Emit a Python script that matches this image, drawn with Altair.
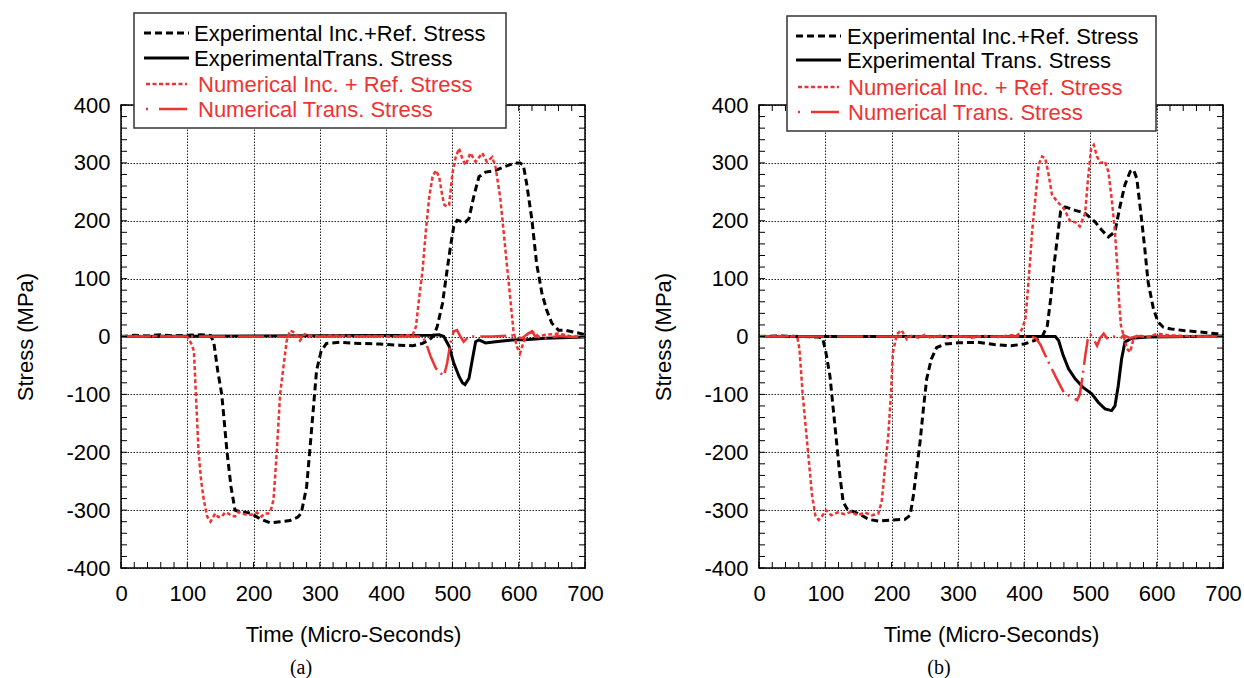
import altair as alt
import pandas as pd

# ---------------- data ----------------
X_MAJOR = list(range(0, 701, 100))
Y_MAJOR = list(range(-400, 401, 100))
X_MINOR = list(range(0, 701, 20))
Y_MINOR = list(range(-400, 401, 20))

LABELS_A = ["Experimental Inc.+Ref. Stress", "ExperimentalTrans. Stress",
            "Numerical Inc. + Ref. Stress", "Numerical Trans. Stress"]
LABELS_B = ["Experimental Inc.+Ref. Stress", "Experimental Trans. Stress",
            "Numerical Inc. + Ref. Stress", "Numerical Trans. Stress"]

# panel (a): (time, stress)
A_EXP_INC = [(0, 0), (20, 2), (40, 1), (60, 3), (80, 1), (100, 2), (120, 3), (135, 2), (140, -10),
             (146, -60), (152, -100), (160, -200), (166, -260), (172, -300), (180, -303), (195, -305),
             (210, -315), (225, -322), (240, -320), (255, -318), (267, -312), (272, -305), (280, -260),
             (287, -168), (295, -59), (302, -25), (310, -12), (330, -10), (360, -12), (390, -13),
             (420, -15), (440, -16), (455, -12), (465, -6), (472, 2), (477, 17), (485, 57), (492, 115),
             (497, 155), (502, 190), (507, 201), (513, 199), (520, 198), (525, 204), (532, 241),
             (540, 276), (550, 284), (565, 287), (580, 294), (595, 300), (602, 300), (607, 296),
             (612, 264), (620, 201), (627, 126), (635, 75), (642, 46), (650, 23), (660, 11), (670, 11),
             (690, 6), (700, 3)]
A_EXP_TRANS = [(0, 0), (470, 2), (480, 3), (487, 0), (495, -17), (502, -46), (510, -69), (515, -80),
               (519, -83), (525, -72), (530, -40), (535, -9), (540, -6), (550, -11), (565, -9),
               (590, -6), (615, -5), (640, -3), (700, -1)]
A_NUM_INC = [(0, 0), (20, 1), (40, 0), (60, 1), (80, 0), (100, 0), (102, -5), (106, -12), (110, -25),
             (113, -100), (117, -200), (121, -250), (125, -283), (130, -311), (135, -320), (142, -306),
             (147, -312), (152, -311), (157, -304), (162, -306), (167, -310), (172, -311), (177, -303),
             (182, -306), (190, -308), (197, -308), (205, -304), (212, -311), (217, -306), (222, -306),
             (226, -300), (230, -283), (235, -200), (240, -100), (245, -53), (250, -7), (255, 10),
             (262, 7), (270, -7), (277, 4), (287, 1), (300, 0), (320, 2), (350, 0), (380, 1), (410, 0),
             (440, 3), (445, 17), (450, 69), (455, 115), (460, 184), (465, 241), (470, 276), (475, 287),
             (480, 276), (485, 241), (488, 227), (492, 225), (495, 227), (500, 282), (505, 310),
             (510, 325), (515, 307), (520, 296), (527, 317), (535, 302), (545, 317), (552, 302),
             (560, 310), (565, 293), (572, 241), (577, 184), (582, 126), (587, 69), (592, 11),
             (597, -17), (602, -29), (607, -11), (612, 3), (620, 9), (630, 0), (640, 3), (660, 5),
             (680, 0), (700, 0)]
A_NUM_TRANS = [(0, 0), (200, 0), (400, 0), (455, 0), (460, -11), (467, -34), (475, -55), (481, -62),
               (487, -69), (492, -46), (497, -11), (502, 9), (507, 11), (512, 0), (517, -9), (522, -3),
               (530, 0), (560, 0), (590, 2), (605, -3), (615, 6), (620, 9), (625, 0), (640, -3),
               (660, 1), (680, -1), (700, 0)]

# panel (b)
B_EXP_INC = [(0, 0), (30, 1), (60, 0), (90, -1), (96, -3), (101, -28), (107, -68), (112, -125),
             (117, -182), (122, -240), (127, -286), (134, -300), (144, -303), (155, -309), (165, -316),
             (180, -319), (200, -317), (220, -316), (228, -309), (233, -274), (238, -228), (243, -182),
             (248, -125), (253, -73), (260, -39), (268, -19), (281, -13), (301, -11), (330, -10),
             (355, -14), (380, -16), (400, -13), (415, -7), (427, -1), (435, 19), (440, 65), (445, 123),
             (450, 169), (455, 216), (462, 224), (477, 218), (492, 213), (507, 198), (517, 184),
             (527, 172), (537, 181), (545, 227), (552, 262), (560, 285), (565, 288), (570, 273),
             (577, 204), (582, 152), (587, 94), (595, 48), (602, 25), (610, 16), (622, 13), (643, 10),
             (663, 8), (688, 5), (700, 4)]
B_EXP_TRANS = [(0, 0), (300, 0), (447, 0), (452, -7), (459, -33), (467, -56), (477, -73), (489, -88),
               (502, -99), (512, -114), (522, -125), (532, -128), (537, -120), (542, -85), (547, -39),
               (552, -10), (562, -3), (587, -1), (650, 0), (700, 1)]
B_NUM_INC = [(0, 0), (30, 1), (55, 0), (58, -2), (61, -22), (66, -101), (74, -200), (80, -274),
             (85, -309), (90, -317), (96, -309), (101, -300), (109, -309), (119, -304), (129, -307),
             (139, -303), (149, -309), (160, -304), (170, -309), (180, -306), (185, -286), (190, -228),
             (195, -171), (199, -101), (202, -28), (208, 4), (215, 11), (223, -5), (230, 1), (240, -2),
             (250, 3), (260, -3), (270, 2), (285, -2), (300, 1), (320, -2), (340, 1), (360, -1),
             (380, 2), (390, 2), (397, 13), (402, 31), (407, 100), (412, 181), (417, 239), (422, 297),
             (427, 311), (432, 308), (437, 279), (442, 245), (450, 233), (460, 221), (470, 198),
             (477, 198), (484, 190), (492, 213), (496, 268), (501, 325), (505, 331), (510, 311),
             (515, 300), (522, 302), (527, 285), (532, 239), (537, 181), (541, 112), (543, 65),
             (546, 19), (550, 2), (555, -21), (560, -27), (565, -4), (572, 2), (587, -1), (602, 5),
             (618, 2), (643, 1), (670, 0), (700, 0)]
B_NUM_TRANS = [(0, 0), (200, 0), (410, 0), (418, -3), (425, -15), (430, -28), (440, -52), (450, -75),
               (460, -97), (470, -104), (480, -110), (484, -100), (488, -70), (492, -35), (496, -5),
               (500, 3), (505, -5), (510, -16), (515, -2), (520, 5), (525, -3), (535, 0), (545, -4),
               (550, 2), (560, -3), (570, 1), (580, 0), (700, 0)]

# ---------------- styles ----------------
RED = "#EE3333"
STYLES = [
    dict(color="black", strokeDash=[7, 4], strokeWidth=3),
    dict(color="black", strokeWidth=3),
    dict(color=RED, strokeDash=[4, 2.5], strokeWidth=2.5),
    dict(color=RED, strokeDash=[26, 5, 2, 6], strokeWidth=2.5),
]
LABEL_COLORS = ["black", "black", RED, RED]
FONT = "Liberation Sans"
W, H = 464, 463
HYPHEN_LABEL = "datum.value < 0 ? '-' + abs(datum.value) : '' + datum.value"

ONE = pd.DataFrame({"k": [0]})


def panel(curves, labels, leg, caption):
    xs = alt.Scale(domain=[0, 700], nice=False, zero=False)
    ys = alt.Scale(domain=[-400, 400], nice=False, zero=False)
    xaxis = alt.Axis(values=X_MAJOR, title="Time (Micro-Seconds)", grid=True, ticks=False,
                     tickSize=0, domain=False, labelPadding=15, titlePadding=20,
                     gridDash=[1.5, 1.5], gridColor="#222", gridWidth=1, labelFlush=False,
                     labelExpr=HYPHEN_LABEL)
    yaxis = alt.Axis(values=Y_MAJOR, title="Stress (MPa)", grid=True, ticks=False,
                     tickSize=0, domain=False, labelPadding=11, titlePadding=28,
                     gridDash=[1.5, 1.5], gridColor="#222", gridWidth=1, labelFlush=False,
                     labelExpr=HYPHEN_LABEL)
    layers = []
    for i, (pts, st) in enumerate(zip(curves, STYLES)):
        df = pd.DataFrame(pts, columns=["t", "s"])
        layers.append(
            alt.Chart(df).mark_line(**st).encode(
                x=alt.X("t:Q", scale=xs, axis=xaxis),
                y=alt.Y("s:Q", scale=ys, axis=yaxis),
            )
        )
    # inward tick marks on all four sides
    ydf = pd.DataFrame({"s": Y_MINOR})
    xdf = pd.DataFrame({"t": X_MINOR})
    tl = 6
    layers.append(alt.Chart(ydf).mark_rule(color="black", strokeWidth=1).encode(
        y=alt.Y("s:Q", scale=ys, axis=yaxis), x=alt.value(0), x2=alt.value(tl)))
    layers.append(alt.Chart(ydf).mark_rule(color="black", strokeWidth=1).encode(
        y=alt.Y("s:Q", scale=ys, axis=yaxis), x=alt.value(W - tl), x2=alt.value(W)))
    layers.append(alt.Chart(xdf).mark_rule(color="black", strokeWidth=1).encode(
        x=alt.X("t:Q", scale=xs, axis=xaxis), y=alt.value(H - tl), y2=alt.value(H)))
    layers.append(alt.Chart(xdf).mark_rule(color="black", strokeWidth=1).encode(
        x=alt.X("t:Q", scale=xs, axis=xaxis), y=alt.value(0), y2=alt.value(tl)))
    # frame
    layers.append(alt.Chart(ONE).mark_rect(fillOpacity=0, stroke="black", strokeWidth=1.5).encode(
        x=alt.value(0), x2=alt.value(W), y=alt.value(0), y2=alt.value(H)))
    # legend box
    bx0, bx1, by0, by1 = leg["box"]
    layers.append(alt.Chart(ONE).mark_rect(fill="white", stroke="#333", strokeWidth=1.5).encode(
        x=alt.value(bx0), x2=alt.value(bx1), y=alt.value(by0), y2=alt.value(by1)))
    sx0, sx1 = leg["sample"]
    for i, lab in enumerate(labels):
        base = leg["rows"][i]
        ly = base - 8
        st = dict(STYLES[i])
        if i == 3:
            st["strokeDash"] = [2, 11, 28, 30]
        x0 = sx0 + (2 if i >= 2 else 0)
        x1 = sx1 - (2 if i >= 2 else 0)
        layers.append(alt.Chart(ONE).mark_rule(**st).encode(
            x=alt.value(x0), x2=alt.value(x1), y=alt.value(ly)))
        tx = leg["text"] + (leg["dx_red"] if i >= 2 else 0)
        layers.append(alt.Chart(pd.DataFrame({"label": [lab]})).mark_text(
            align="left", baseline="alphabetic", font=FONT, fontSize=22,
            color=LABEL_COLORS[i]).encode(
            x=alt.value(tx), y=alt.value(base), text="label:N"))
    # caption
    layers.append(alt.Chart(pd.DataFrame({"c": [caption]})).mark_text(
        font="Liberation Serif", fontSize=20, color="black", baseline="middle").encode(
        x=alt.value(leg["cap_x"]), y=alt.value(H + 100), text="c:N"))
    return alt.layer(*layers).properties(width=W, height=H)


LEG_A = dict(box=(13, 385, -92, 23), sample=(23, 68), text=73, dx_red=4,
             rows=[-64, -39, -13, 12], cap_x=180)
LEG_B = dict(box=(28, 397, -89, 26), sample=(37, 82), text=88, dx_red=1,
             rows=[-61, -37, -10, 15], cap_x=180)

pa = panel([A_EXP_INC, A_EXP_TRANS, A_NUM_INC, A_NUM_TRANS], LABELS_A, LEG_A, "(a)")
pb = panel([B_EXP_INC, B_EXP_TRANS, B_NUM_INC, B_NUM_TRANS], LABELS_B, LEG_B, "(b)")

chart = alt.hconcat(pa, pb, spacing=48).properties(
    padding={"left": 14, "top": 12, "right": 0, "bottom": 0}
).configure_view(stroke=None).configure_axis(
    labelFont=FONT, titleFont=FONT, labelFontSize=22, titleFontSize=22,
    titleFontWeight="normal", labelColor="black", titleColor="black"
)

chart.save("out.html", embed_options={"renderer": "svg", "actions": False})
